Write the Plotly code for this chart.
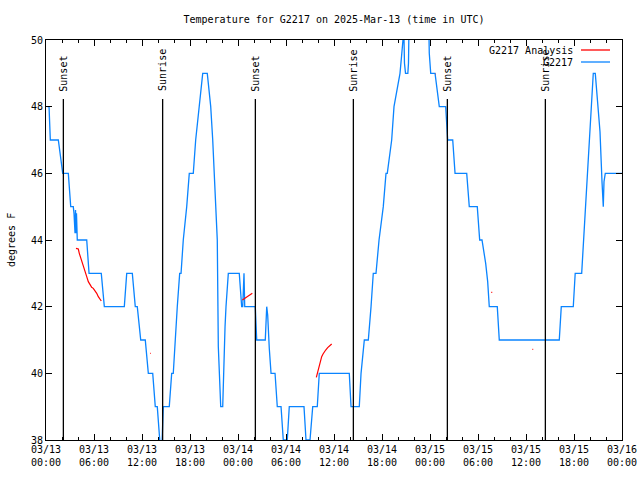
import plotly.graph_objects as go
import pandas as pd

# ---------------- data ----------------
base = pd.Timestamp("2025-03-13 00:00")

# G2217 observations (hours after 03/13 00:00 UTC, degrees F)
obs_hours = [0.16, 0.38, 0.54, 1.54, 2.09, 2.79, 3.09, 3.41, 3.50, 3.63, 3.69, 3.75, 3.81, 3.88, 3.91,
             5.09, 5.38, 6.91, 7.29, 9.79, 10.09, 10.79, 11.16, 11.41, 11.84, 12.41, 12.79, 13.34,
             13.66, 13.91, 14.21, 14.34, 14.46, 14.66, 15.41, 15.71, 15.91, 16.13, 16.41, 16.71,
             16.88, 17.16, 17.59, 17.91, 18.41, 18.71, 19.16, 19.59, 20.16, 20.59, 20.84, 21.00,
             21.25, 21.41, 21.54, 21.66, 21.84, 22.09, 22.16, 22.38, 22.50, 22.79, 24.16, 24.46,
             24.59, 24.66, 24.75, 24.84, 26.16, 26.34, 27.41, 27.59, 27.71, 27.91, 28.13, 28.63,
             28.91, 29.38, 29.66, 30.16, 30.41, 32.25, 32.50, 33.00, 33.34, 33.91, 34.16, 37.91,
             38.13, 39.16, 39.38, 39.79, 40.29, 40.63, 40.91, 41.25, 41.63, 42.16, 42.50, 42.66,
             43.21, 43.50, 44.25, 44.44, 44.63, 44.73, 44.81, 44.94, 45.23, 45.31, 45.41, 47.81,
             47.91, 48.09, 48.63, 49.16, 49.96, 50.09, 50.21, 50.84, 51.13, 52.59, 52.91, 53.91,
             54.21, 54.50, 54.96, 55.21, 55.41, 56.41, 56.66, 64.16, 64.41, 65.91, 66.15, 66.96,
             68.41, 68.66, 68.75, 69.25, 69.50, 69.66, 69.75, 69.91, 72.00]
obs_temps = [48, 48, 47, 47, 46, 46, 45, 45, 44.8, 44.2, 44.9, 44.2, 44.8, 44.1, 44,
             44, 43, 43, 42, 42, 43, 43, 42, 42, 41, 41, 40, 40,
             39, 39, 38, 37.6, 37.6, 39, 39, 40, 40, 41, 42, 43,
             43, 44, 45, 46, 46, 47, 48, 49, 49, 48, 47, 46,
             45, 44, 40.8, 39.9, 39, 39, 39.8, 41.4, 42, 43, 43, 42,
             42, 43, 43, 42, 42, 41, 41, 42, 41.75, 40.75, 40, 40,
             39, 39, 38, 38, 39, 39, 38, 38, 39, 39, 40, 40,
             39, 39, 40, 41, 41, 42, 43, 43, 44, 45, 46, 46,
             47, 48, 49, 49.5, 50.3, 50.3, 49.3, 49.0, 49.0, 49.3, 51, 51,
             49.6, 49, 49, 48, 48, 47.3, 47, 47, 46, 46, 45, 45,
             44, 44, 43.3, 42.75, 42, 42, 41, 41, 42, 42, 43, 43,
             49, 49, 48.75, 47.25, 45.75, 45, 45.75, 46, 46]

# G2217 Analysis (None separates segments)
ana_hours = [3.75, 4.04, 4.16, 4.34, 4.50, 4.66, 4.88, 5.09, 5.29, 5.50, 5.71, 5.91, 6.13, 6.34,
             6.54, 6.75, 6.91, None,
             13.00, 13.08, None,
             24.54, 25.25, 25.79, None,
             33.79, 33.96, 34.13, 34.29, 34.46, 34.63, 34.79, 34.96, 35.21, 35.46, 35.71, None,
             48.66, 48.72, None,
             55.66, 55.78, None,
             60.80, 60.90]
ana_temps = [43.75, 43.73, 43.6, 43.45, 43.35, 43.25, 43.05, 42.9, 42.75, 42.65, 42.58, 42.55,
             42.48, 42.4, 42.3, 42.22, 42.17, None,
             40.6, 40.6, None,
             42.2, 42.3, 42.4, None,
             39.88, 40.05, 40.2, 40.35, 40.5, 40.58, 40.65, 40.7, 40.77, 40.83, 40.88, None,
             48.98, 48.98, None,
             42.43, 42.43, None,
             40.72, 40.72]

sun_labels = ["Sunset", "Sunrise", "Sunset", "Sunrise", "Sunset", "Sunrise"]
sun_hours = [2.17, 14.58, 26.17, 38.42, 50.17, 62.42]

tick_hours = list(range(0, 73, 6))
title_text = "Temperature for G2217 on 2025-Mar-13 (time in UTC)"

# ---------------- figure ----------------
def to_time(h):
    return None if h is None else base + pd.Timedelta(hours=h)

FONT = "DejaVu Sans Mono"
BLUE = "#0a84ff"
RED = "#ff0000"

fig = go.Figure()
fig.add_trace(go.Scatter(x=[to_time(h) for h in obs_hours], y=obs_temps, mode="lines",
                         line=dict(color=BLUE, width=1.3), name="G2217", cliponaxis=True))
fig.add_trace(go.Scatter(x=[to_time(h) for h in ana_hours], y=ana_temps, mode="lines",
                         line=dict(color=RED, width=1.2), name="G2217 Analysis",
                         connectgaps=False))

shapes = []
annotations = []
for lab, h in zip(sun_labels, sun_hours):
    t = to_time(h)
    shapes.append(dict(type="line", xref="x", yref="y", x0=t, x1=t, y0=38, y1=48.23,
                       line=dict(color="black", width=1.3)))
    annotations.append(dict(x=t, y=48.4, xref="x", yref="y", text=lab, textangle=-90,
                            showarrow=False, xanchor="center", yanchor="bottom",
                            font=dict(family=FONT, size=10, color="black")))

# legend in gnuplot style (text left, sample right)
L, R, T, B = 46, 18, 40, 40
PW, PH = 640 - L - R, 480 - T - B
def px(xp):
    return (xp - L) / PW
def py(yp):
    return (480 - B - yp) / PH

for i, (name, col) in enumerate([("G2217 Analysis", RED), ("G2217", BLUE)]):
    ypix = 50 + 12 * i
    annotations.append(dict(x=px(575), y=py(ypix), xref="paper", yref="paper", text=name,
                            showarrow=False, xanchor="right", yanchor="middle",
                            font=dict(family=FONT, size=10, color="black")))
    shapes.append(dict(type="line", xref="paper", yref="paper", x0=px(581), x1=px(610),
                       y0=py(ypix), y1=py(ypix), line=dict(color=col, width=1.3)))

annotations.append(dict(x=px(11), y=0.5, xref="paper", yref="paper", text="degrees F",
                        textangle=-90, showarrow=False, xanchor="center", yanchor="middle",
                        font=dict(family=FONT, size=10, color="black")))

tickvals = [to_time(h) for h in tick_hours]
ticktext = [f"{t.strftime('%m/%d')}<br>{t.strftime('%H:%M')}" for t in tickvals]

fig.update_layout(
    width=640, height=480,
    margin=dict(l=L, r=R, t=T, b=B, pad=0, autoexpand=False),
    paper_bgcolor="white", plot_bgcolor="white",
    showlegend=False,
    font=dict(family=FONT, size=10, color="black"),
    title=dict(text=title_text, x=0.5 * (L + 640 - R) / 640, xref="container", xanchor="center",
               y=1 - 19 / 480, yref="container", yanchor="middle", automargin=False,
               font=dict(family=FONT, size=10, color="black")),
    shapes=shapes, annotations=annotations,
    xaxis=dict(type="date", range=[base, base + pd.Timedelta(hours=72)], automargin=False,
               tickvals=tickvals, ticktext=ticktext, ticks="inside", ticklen=6,
               tickcolor="black", mirror="ticks", showline=True, linecolor="black",
               linewidth=1, showgrid=False, zeroline=False,
               minor=dict(dtick=2 * 3600000, ticks="inside", ticklen=3, tickcolor="black",
                          showgrid=False)),
    yaxis=dict(range=[38, 50], dtick=2, tick0=38, ticks="inside", ticklen=6, automargin=False,
               tickcolor="black", mirror="ticks", showline=True, linecolor="black",
               linewidth=1, showgrid=False, zeroline=False),
)

fig.write_html("out.html", config={"displayModeBar": False},
               post_script="document.body.style.margin='0';document.body.style.overflow='hidden';")
